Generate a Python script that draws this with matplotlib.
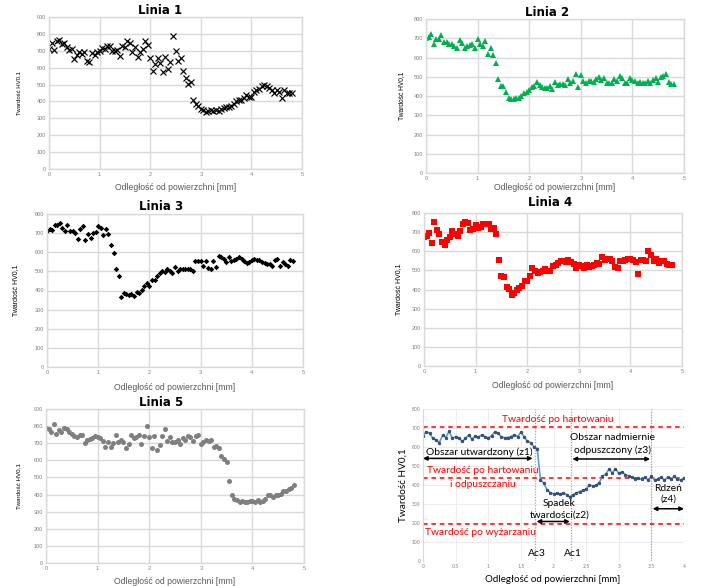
import numpy as np
import matplotlib
matplotlib.use("Agg")
import matplotlib.pyplot as plt

W, H = 717, 586

# measurement grid (mm), step 0.05
dist = np.round(np.arange(97) * 0.05, 2)
dist6 = np.round(np.arange(81) * 0.05, 2)

linia1 = [710, 745, 705, 760, 765, 740, 745, 720, 705, 710, 650, 675, 690, 680, 690, 640, 635, 685, 675, 695,
          700, 715, 710, 730, 730, 700, 700, 705, 670, 730, 720, 760, 745, 695, 725, 665, 690, 710, 760, 735,
          660, 580, 620, 660, 630, 575, 665, 595, 635, 790, 700, 640, 655, 580, 540, 505, 515, 410, 385, 375,
          355, 350, 340, 345, 350, 345, 350, 345, 355, 360, 365, 370, 375, 385, 400, 410, 410, 420, 440, 425,
          425, 455, 470, 475, 490, 495, 490, 480, 470, 450, 465, 455, 420, 470, 450, 450, 450]
linia2 = [700, 705, 720, 670, 695, 695, 715, 680, 680, 670, 670, 660, 650, 690, 675, 650, 660, 665, 670, 650,
          695, 670, 660, 685, 620, 650, 615, 570, 490, 450, 450, 420, 390, 385, 385, 390, 390, 400, 415, 420,
          430, 445, 450, 475, 455, 445, 440, 440, 450, 435, 475, 455, 460, 460, 455, 490, 465, 480, 515, 445,
          510, 480, 465, 480, 480, 475, 490, 500, 485, 495, 465, 470, 465, 490, 480, 505, 495, 470, 465, 495,
          485, 480, 465, 475, 465, 465, 480, 465, 485, 495, 475, 500, 505, 515, 475, 460, 460]
linia3 = [710, 720, 715, 740, 740, 755, 725, 710, 740, 710, 710, 700, 670, 720, 735, 665, 695, 675, 700, 705,
          735, 725, 690, 720, 695, 640, 595, 515, 475, 365, 385, 380, 375, 380, 370, 390, 385, 405, 425, 440,
          425, 455, 455, 475, 490, 500, 495, 510, 500, 490, 525, 500, 510, 510, 515, 515, 510, 500, 555, 555,
          555, 530, 555, 520, 515, 555, 525, 580, 575, 565, 550, 575, 555, 560, 565, 575, 565, 555, 545, 550,
          560, 565, 560, 560, 550, 545, 540, 540, 530, 560, 565, 530, 550, 540, 530, 560, 555]
linia4 = [675, 680, 695, 645, 755, 710, 690, 650, 635, 660, 675, 705, 690, 680, 705, 740, 755, 750, 710, 715,
          735, 720, 725, 740, 745, 740, 715, 720, 690, 555, 470, 465, 415, 405, 370, 380, 400, 410, 420, 445,
          445, 470, 510, 495, 485, 490, 495, 505, 495, 495, 525, 530, 540, 550, 550, 545, 555, 545, 535, 515,
          530, 525, 510, 530, 520, 525, 530, 540, 535, 570, 555, 560, 560, 550, 520, 515, 550, 550, 555, 560,
          560, 555, 545, 480, 555, 555, 550, 600, 580, 550, 560, 540, 550, 550, 535, 530, 530]
linia5 = [790, 785, 765, 810, 755, 775, 765, 790, 785, 765, 755, 745, 735, 750, 750, 700, 720, 725, 730, 745,
          735, 730, 715, 680, 710, 680, 700, 750, 705, 720, 705, 675, 695, 750, 730, 735, 750, 695, 740, 800,
          735, 675, 740, 660, 690, 740, 785, 715, 735, 710, 705, 720, 695, 730, 720, 745, 735, 715, 745, 750,
          695, 705, 720, 715, 720, 680, 685, 670, 625, 610, 590, 480, 395, 375, 370, 355, 360, 355, 355, 365,
          360, 355, 370, 355, 360, 375, 395, 395, 385, 395, 400, 405, 420, 420, 430, 440, 455]
profil = [660, 680, 672, 646, 637, 623, 662, 650, 683, 646, 655, 648, 629, 645, 664, 641, 658, 652, 664, 655,
          646, 660, 680, 672, 655, 648, 650, 655, 664, 655, 678, 655, 629, 623, 600, 592, 427, 410, 375, 360,
          354, 356, 352, 358, 350, 336, 350, 358, 365, 372, 378, 401, 395, 398, 412, 445, 458, 483, 465, 485,
          462, 468, 455, 447, 440, 432, 436, 430, 440, 428, 445, 425, 432, 442, 425, 440, 430, 445, 432, 425, 438]

titles = ["Linia 1", "Linia 2", "Linia 3", "Linia 4", "Linia 5"]
ylabel = "Twardość HV0,1"
xlabel = "Odległość od powierzchni [mm]"

# reference levels and boundaries for panel 6
lvl_hart = 705
lvl_hart_odp = 436
lvl_wyz = 195
x_ac3 = 1.72
x_ac1 = 2.27
x_core = 3.5

GRID = "#d9d9d9"
TICK = "#7f7f7f"
LAB = "#595959"
SANS = "Liberation Sans"

fig = plt.figure(figsize=(W / 100, H / 100), dpi=100)


def add_ax(l, t, r, b):
    return fig.add_axes([l / W, 1 - b / H, (r - l) / W, (b - t) / H])


def style(ax, ymax, fs=4):
    ax.set_xlim(0, 5)
    ax.set_ylim(0, ymax)
    ax.set_xticks(range(0, 6))
    ax.set_yticks(range(0, ymax + 1, 100))
    ax.grid(True, color=GRID, linewidth=1.0)
    ax.set_axisbelow(True)
    for s in ax.spines.values():
        s.set_color(GRID)
        s.set_linewidth(1.0)
    ax.tick_params(length=0, labelsize=fs, labelcolor=TICK, pad=2)
    for lab in ax.get_xticklabels() + ax.get_yticklabels():
        lab.set_family(SANS)


panels = [
    dict(box=(49, 17, 302, 169), ymax=900, data=linia1, m="x", c="black", ms=4.0, mew=0.85,
         title=(160, 10), ylx=19, xly=188, ylfs=4.3),
    dict(box=(426, 19, 684, 173), ymax=800, data=linia2, m="^", c="#00b050", ms=4.2, mew=0,
         title=(547, 13), ylx=402, xly=187, ylfs=4.8),
    dict(box=(47, 214, 303, 367), ymax=800, data=linia3, m="D", c="black", ms=2.8, mew=0,
         title=(161, 207), ylx=16, xly=387, ylfs=5),
    dict(box=(424, 213, 682, 366), ymax=800, data=linia4, m="s", c="#ff0000", ms=3.8, mew=0,
         title=(550, 203), ylx=399, xly=386, ylfs=5),
    dict(box=(46, 409, 304, 563), ymax=900, data=linia5, m="o", c="#7f7f7f", ms=3.6, mew=0,
         title=(161, 402), ylx=19, xly=582, ylfs=4.5),
]

for p, t in zip(panels, titles):
    ax = add_ax(*p["box"])
    style(ax, p["ymax"])
    ax.plot(dist, p["data"], linestyle="none", marker=p["m"], color=p["c"], markersize=p["ms"],
            markeredgewidth=p["mew"] if p["m"] == "x" else 0, markeredgecolor=p["c"])
    fig.text(p["title"][0] / W, 1 - p["title"][1] / H, t, ha="center", va="center",
             fontsize=8.5, fontweight="bold", family="DejaVu Sans", color="black")
    yc = (p["box"][1] + p["box"][3]) / 2
    fig.text(p["ylx"] / W, 1 - yc / H, ylabel, rotation=90, ha="center", va="center",
             fontsize=p["ylfs"], family=SANS, color="black")
    xc = (p["box"][0] + p["box"][2]) / 2
    fig.text(xc / W, 1 - p["xly"] / H, xlabel, ha="center", va="center",
             fontsize=6.2, family=SANS, color=LAB)

# ---------- panel 6 ----------
ax = add_ax(423, 409, 684, 561)
F6 = "Lato"
ax.set_xlim(0, 4)
ax.set_ylim(0, 800)
xt = [0, 0.5, 1, 1.5, 2, 2.5, 3, 3.5, 4]
ax.set_xticks(xt)
ax.set_xticklabels([("%g" % v).replace(".", ",") for v in xt])
ax.set_yticks(range(0, 801, 100))
ax.grid(True, color="#ececec", linewidth=0.7)
ax.set_axisbelow(True)
for s in ax.spines.values():
    s.set_visible(False)
ax.spines["left"].set_visible(True)
ax.spines["left"].set_color("#d9d9d9")
ax.tick_params(length=0, labelsize=3.3, labelcolor=TICK, pad=2)

for xv in (x_ac3, x_ac1, x_core):
    ax.axvline(xv, color="#a6a6a6", linestyle=(0, (1, 1.2)), linewidth=0.9)
for yv in (lvl_hart, lvl_hart_odp, lvl_wyz):
    ax.axhline(yv, color="#ff0000", linestyle=(0, (3, 2.5)), linewidth=1.1)

ax.plot(dist6, profil, color="#5b9bd5", linewidth=1.2, marker="o", markersize=2.0,
        markerfacecolor="#44546a", markeredgecolor="#1f3864", markeredgewidth=0.4)

RED = "#ff0000"
TFS = 7.4
ax.text(2.06, 745, "Twardość po hartowaniu", color=RED, fontsize=TFS, family=F6, ha="center", va="center")
ax.text(0.91, 478, "Twardość po hartowaniu", color=RED, fontsize=TFS, family=F6, ha="center", va="center")
ax.text(0.92, 405, "i odpuszczaniu", color=RED, fontsize=TFS, family=F6, ha="center", va="center")
ax.text(0.88, 150, "Twardość po wyżarzaniu", color=RED, fontsize=TFS, family=F6, ha="center", va="center")

ax.text(0.86, 574, "Obszar utwardzony (z1)", color="black", fontsize=TFS, family=F6, ha="center", va="center")
ax.text(2.9, 650, "Obszar nadmiernie", color="black", fontsize=TFS, family=F6, ha="center", va="center")
ax.text(2.9, 581, "odpuszczony (z3)", color="black", fontsize=TFS, family=F6, ha="center", va="center")
ax.text(2.09, 305, "Spadek", color="black", fontsize=TFS, family=F6, ha="center", va="center")
ax.text(2.09, 243, "twardości(z2)", color="black", fontsize=TFS, family=F6, ha="center", va="center")
ax.text(3.76, 380, "Rdzeń", color="black", fontsize=TFS, family=F6, ha="center", va="center")
ax.text(3.76, 325, "(z4)", color="black", fontsize=TFS, family=F6, ha="center", va="center")
ax.text(1.74, 42, "Ac3", color="black", fontsize=TFS, family=F6, ha="center", va="center")
ax.text(2.29, 42, "Ac1", color="black", fontsize=TFS, family=F6, ha="center", va="center")

arrow_kw = dict(arrowstyle="<|-|>", color="black", lw=1.1, mutation_scale=6, shrinkA=0, shrinkB=0)
for x0, x1, yv in [(0.0, 1.68, 540), (2.29, 3.48, 537), (3.52, 4.0, 275), (1.74, 2.25, 208)]:
    ax.annotate("", xy=(x1, yv), xytext=(x0, yv), arrowprops=arrow_kw)

fig.text(403 / W, 1 - 485 / H, ylabel, rotation=90, ha="center", va="center",
         fontsize=7.2, family=F6, color="black")
fig.text(553 / W, 1 - 580 / H, xlabel, ha="center", va="center",
         fontsize=7.0, family=F6, color="black")

fig.savefig("out.png", dpi=100)
